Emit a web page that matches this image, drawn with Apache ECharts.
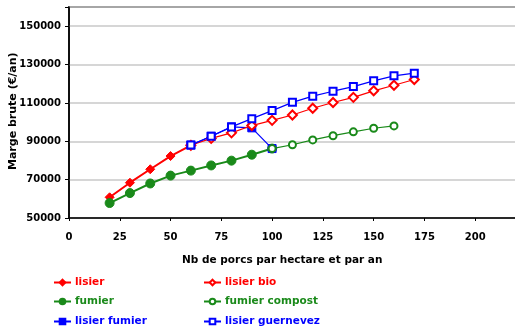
<!DOCTYPE html>
<html><head><meta charset="utf-8">
<script src="https://cdn.jsdelivr.net/npm/echarts@6/dist/echarts.min.js"></script>
<style>html,body{margin:0;padding:0;background:#fff}#c{width:515px;height:331px}</style>
</head><body><div id="c"></div>
<script>
const xLisier = [20, 30, 40, 50, 60];
const yLisier = [60800, 68400, 75400, 82300, 87900];
const xLisierBio = [60, 70, 80, 90, 100, 110, 120, 130, 140, 150, 160, 170];
const yLisierBio = [87900, 91500, 94400, 98200, 100900, 103700, 107200, 110200, 112900, 116300, 119200, 122200];
const xFumier = [20, 30, 40, 50, 60, 70, 80, 90, 100];
const yFumier = [57800, 63000, 68000, 72100, 74700, 77400, 79900, 83000, 86200];
const xFumierCompost = [100, 110, 120, 130, 140, 150, 160];
const yFumierCompost = [86200, 88200, 90700, 92900, 94900, 96800, 98000];
const xLisierFumier = [60, 70, 80, 90, 100];
const yLisierFumier = [88000, 92600, 97500, 97000, 86200];
const xGuernevez = [60, 70, 80, 90, 100, 110, 120, 130, 140, 150, 160, 170];
const yGuernevez = [88000, 92600, 97500, 101800, 106000, 110300, 113500, 116100, 118500, 121500, 124100, 125500];
const xTicks = [0, 25, 50, 75, 100, 125, 150, 175, 200];
const yTicks = [50000, 70000, 90000, 110000, 130000, 150000];

const RED = '#ff0000', GREEN = '#1a8a1a', BLUE = '#0000ff';
const FONT = 'DejaVu Sans';
const zip = (xs, ys) => xs.map((x, i) => [x, ys[i]]);

function ser(name, xs, ys, color, symbol, size, lw, z) {
  return {
    name, type: 'line', data: zip(xs, ys), z,
    symbol, symbolSize: size,
    lineStyle: { color, width: lw },
    itemStyle: { color, borderColor: color, borderWidth: 1 },
    emphasis: { disabled: true }, animation: false
  };
}
function leg(name, color, left, top) {
  return {
    data: [name], left, top, itemWidth: 17, itemHeight: 7, itemGap: 4,
    textStyle: { color, fontFamily: FONT, fontWeight: 'bold', fontSize: 10.5, padding: [0, 0, 0, -1] },
    padding: 0, selectedMode: false
  };
}

const chart = echarts.init(document.getElementById('c'));
chart.setOption({
  animation: false,
  grid: { left: 69, top: 7, right: -11, bottom: 113, show: true, borderColor: '#000', borderWidth: 1.5,
    outerBoundsMode: 'none', containLabel: false },
  xAxis: {
    type: 'value', min: 0, max: 225, interval: 25,
    axisLine: { show: true, lineStyle: { color: '#000', width: 1.5 } },
    axisTick: { show: true, length: 3, lineStyle: { color: '#000' } },
    splitLine: { show: false },
    axisLabel: { color: '#000', fontFamily: FONT, fontWeight: 'bold', fontSize: 10, margin: 14,
      formatter: v => xTicks.includes(v) ? String(v) : '' }
  },
  yAxis: {
    type: 'value', min: 50000, max: 160000, interval: 20000,
    axisLine: { show: true, lineStyle: { color: '#000', width: 1.5 } },
    axisTick: { show: true, length: 4, lineStyle: { color: '#000' } },
    splitLine: { show: true, lineStyle: { color: '#c8c8c8', width: 1.5 } },
    axisLabel: { color: '#000', fontFamily: FONT, fontWeight: 'bold', fontSize: 10, margin: 8,
      formatter: v => yTicks.includes(v) ? String(v) : '' }
  },
  legend: [
    leg('lisier', RED, 53, 277),
    leg('lisier bio', RED, 203, 277),
    leg('fumier', GREEN, 53, 296),
    leg('fumier compost', GREEN, 203, 296),
    leg('lisier fumier', BLUE, 53, 316),
    leg('lisier guernevez', BLUE, 203, 316)
  ],
  graphic: [
    { type: 'text', left: 182, top: 255,
      style: { text: 'Nb de porcs par hectare et par an', fill: '#000', font: 'bold 10.5px "DejaVu Sans"' } },
    { type: 'text', x: 8, y: 170, rotation: Math.PI / 2,
      style: { text: 'Marge brute (€/an)', fill: '#000', font: 'bold 11px "DejaVu Sans"' } }
  ],
  series: [
    ser('lisier', xLisier, yLisier, RED, 'diamond', 9, 2, 2),
    ser('fumier', xFumier, yFumier, GREEN, 'circle', 9, 2, 2),
    ser('lisier fumier', xLisierFumier, yLisierFumier, BLUE, 'rect', 8, 1.2, 3),
    ser('lisier bio', xLisierBio, yLisierBio, RED, 'emptyDiamond', 9, 1.2, 4),
    ser('fumier compost', xFumierCompost, yFumierCompost, GREEN, 'emptyCircle', 7, 1.2, 4),
    ser('lisier guernevez', xGuernevez, yGuernevez, BLUE, 'emptyRect', 7, 1.2, 5)
  ]
});
</script></body></html>
